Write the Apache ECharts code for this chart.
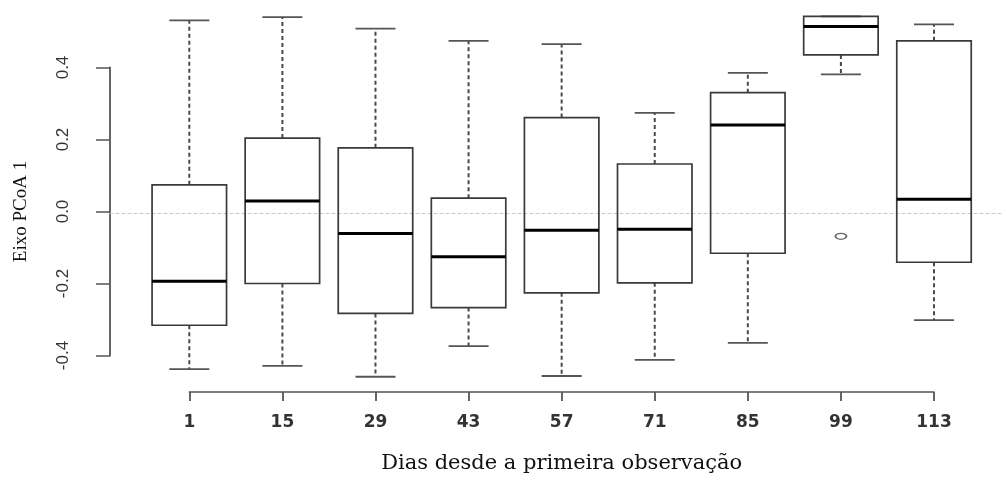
<!DOCTYPE html>
<html>
<head>
<meta charset="utf-8">
<script src="https://cdn.jsdelivr.net/npm/echarts@6/dist/echarts.min.js"></script>
<style>html,body{margin:0;padding:0;background:#fff}#c{width:1002px;height:479px}</style>
</head>
<body>
<div id="c"></div>
<script>
// ---- data ----
const days = ['1', '15', '29', '43', '57', '71', '85', '99', '113'];
const whiskerLow  = [-0.438, -0.429, -0.459, -0.374, -0.457, -0.412, -0.365, 0.381, -0.302];
const q1          = [-0.316, -0.200, -0.283, -0.267, -0.226, -0.198, -0.116, 0.435, -0.141];
const median      = [-0.194,  0.029, -0.061, -0.126, -0.052, -0.049,  0.240, 0.514,  0.034];
const q3          = [ 0.074,  0.204,  0.177,  0.037,  0.261,  0.132,  0.330, 0.542,  0.474];
const whiskerHigh = [ 0.531,  0.540,  0.508,  0.474,  0.465,  0.274,  0.385, 0.542,  0.520];
const outlierDay   = ['99'];
const outlierValue = [-0.069];
const yTicks = { min: -0.4, max: 0.4, interval: 0.2 };

const boxRows = days.map((d, i) => [i, whiskerLow[i], q1[i], median[i], q3[i], whiskerHigh[i]]);
const outlierRows = outlierDay.map((d, k) => [days.indexOf(d), outlierValue[k]]);

const chart = echarts.init(document.getElementById('c'), null, { renderer: 'canvas' });
const AX = '#555';
const BOX = '#3a3a3a';

chart.setOption({
  backgroundColor: '#fff',
  animation: false,
  grid: [
    { left: 110, right: 0, top: 67.5, bottom: 120.5 },      // R plot region (for the zero reference line)
    { left: 189.3, right: 68, top: 67.5, bottom: 120.5 }    // axis extents as drawn by R
  ],
  xAxis: [
    {
      gridIndex: 0, type: 'value', min: 0, max: 1,
      axisLine: { show: true, onZero: true, lineStyle: { color: '#c8c8c8', width: 1, type: [3, 3] } },
      axisTick: { show: false }, axisLabel: { show: false }, splitLine: { show: false }
    },
    {
      gridIndex: 1, type: 'category', data: days, boundaryGap: false, position: 'bottom', offset: 36.5,
      axisLine: { show: true, onZero: false, lineStyle: { color: AX, width: 1.5 } },
      axisTick: { show: true, length: 9, lineStyle: { color: AX, width: 1.8 } },
      axisLabel: { margin: 22, color: '#333', fontFamily: 'DejaVu Sans', fontSize: 17, fontWeight: 'bold' },
      splitLine: { show: false },
      name: 'Dias desde a primeira observação', nameLocation: 'middle', nameGap: 61,
      nameTextStyle: { fontFamily: 'DejaVu Serif', fontSize: 21, color: '#111' }
    }
  ],
  yAxis: [
    {
      gridIndex: 0, type: 'value', min: yTicks.min, max: yTicks.max, show: false
    },
    {
      gridIndex: 1, type: 'value', min: yTicks.min, max: yTicks.max, interval: yTicks.interval,
      position: 'left', offset: 79.3,
      axisLine: { show: true, lineStyle: { color: AX, width: 1.8 } },
      axisTick: { show: true, length: 14, lineStyle: { color: AX, width: 1.5 } },
      axisLabel: {
        rotate: 90, margin: 38, color: '#333', fontFamily: 'Liberation Sans', fontSize: 17,
        formatter: v => v.toFixed(1)
      },
      splitLine: { show: false },
      name: 'Eixo PCoA 1', nameLocation: 'middle', nameGap: 79,
      nameTextStyle: { fontFamily: 'Liberation Serif', fontSize: 19, color: '#111' }
    }
  ],
  series: [
    {
      type: 'custom', xAxisIndex: 1, yAxisIndex: 1, clip: false, z: 3,
      data: boxRows,
      encode: { x: 0, y: [1, 2, 3, 4, 5] },
      renderItem: function (params, api) {
        const i = api.value(0);
        const lo = api.coord([i, api.value(1)]);
        const b1 = api.coord([i, api.value(2)]);
        const md = api.coord([i, api.value(3)]);
        const b3 = api.coord([i, api.value(4)]);
        const hi = api.coord([i, api.value(5)]);
        const band = api.size([1, 0])[0];
        const hw = band * 0.4;
        const cw = band * 0.215;
        const x = md[0];
        const wStyle = { stroke: '#4a4a4a', lineWidth: 2, lineDash: [4, 3], fill: null };
        const cStyle = { stroke: '#555', lineWidth: 1.8, fill: null };
        return {
          type: 'group',
          children: [
            { type: 'line', shape: { x1: x, y1: b3[1], x2: x, y2: hi[1] }, style: wStyle },
            { type: 'line', shape: { x1: x, y1: b1[1], x2: x, y2: lo[1] }, style: wStyle },
            { type: 'line', shape: { x1: x - cw, y1: hi[1], x2: x + cw, y2: hi[1] }, style: cStyle },
            { type: 'line', shape: { x1: x - cw, y1: lo[1], x2: x + cw, y2: lo[1] }, style: cStyle },
            { type: 'rect', shape: { x: x - hw, y: b3[1], width: 2 * hw, height: b1[1] - b3[1] },
              style: { stroke: BOX, lineWidth: 1.7, fill: null } },
            { type: 'line', shape: { x1: x - hw, y1: md[1], x2: x + hw, y2: md[1] },
              style: { stroke: '#000', lineWidth: 3 } }
          ]
        };
      }
    },
    {
      type: 'scatter', xAxisIndex: 1, yAxisIndex: 1, clip: false, z: 4,
      data: outlierRows,
      symbol: 'circle', symbolSize: [11, 6],
      itemStyle: { color: '#fff', borderColor: '#444', borderWidth: 1.5 }
    }
  ]
});
</script>
</body>
</html>
